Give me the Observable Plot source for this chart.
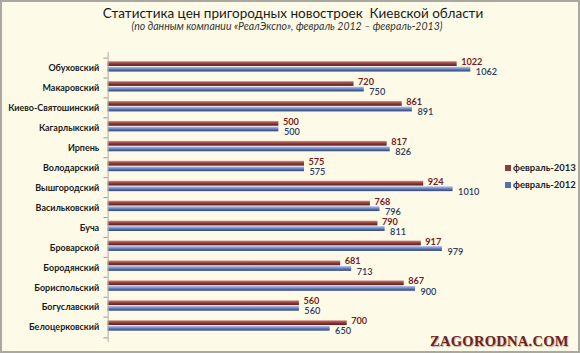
<!DOCTYPE html>
<html><head><meta charset="utf-8">
<script src="https://cdn.jsdelivr.net/npm/d3@7"></script>
<script src="https://cdn.jsdelivr.net/npm/@observablehq/plot@0.6"></script>
<style>
body{margin:0;background:#fff;}
#wrap{position:relative;box-sizing:border-box;width:580px;height:353px;border:2px solid #a9a9a2;background:#fdfbe8;font-family:Lato,"Open Sans",sans-serif;overflow:hidden}
#title{position:absolute;top:3px;left:3px;width:100%;text-align:center;font-size:13.5px;line-height:16px;color:#1a1a1a;white-space:pre}
#sub{position:absolute;top:18px;left:-3px;width:100%;text-align:center;font-size:10.5px;line-height:13px;font-style:italic;color:#333}
#chart{position:absolute;top:40px;left:-2px}
.leg{position:absolute;left:503px;font-size:9.5px;font-weight:bold;color:#222;display:flex;align-items:center}
.leg i{display:inline-block;width:6px;height:6px;margin-right:2px}
#wm{position:absolute;left:428px;top:331px;font-family:"Liberation Serif","DejaVu Serif",serif;font-weight:bold;font-size:14.5px;color:#6b2224;letter-spacing:0.3px;text-shadow:1px 1px 1px #c9a9a0}
</style></head>
<body>
<div id="wrap">
  <div id="title">Статистика цен пригородных новостроек  Киевской области</div>
  <div id="sub">(по данным компании «РеалЭкспо», февраль 2012 – февраль-2013)</div>
  <div id="chart"></div>
  <div class="leg" style="top:160px"><i style="background:#8f3c39"></i>февраль-2013</div>
  <div class="leg" style="top:177px"><i style="background:#5570aa"></i>февраль-2012</div>
  <div id="wm">ZAGORODNA.COM</div>
</div>
<script>
const categories = ["Обуховский","Макаровский","Киево-Святошинский","Кагарлыкский","Ирпень","Володарский","Вышгородский","Васильковский","Буча","Броварской","Бородянский","Бориспольский","Богуславский","Белоцерковский"];
const v2013 = [1022,720,861,500,817,575,924,768,790,917,681,867,560,700];
const v2012 = [1062,750,891,500,826,575,1010,796,811,979,713,900,560,650];

const rows = categories.map((c,i)=>({c, a:v2013[i], b:v2012[i]}));
const bw = 20.75;
const plot = Plot.plot({
  width: 580, height: 311,
  marginLeft: 108, marginRight: 95, marginTop: 10, marginBottom: 10,
  style: {background: "transparent", fontFamily: "Lato, sans-serif"},
  x: {domain: [0, 1100], axis: null},
  y: {domain: categories, padding: 0, label: null},
  marks: [
    Plot.axisY({tickSize: 0, tickPadding: 9, fontSize: 9, fontWeight: "bold", fill: "#1a1a1a"}),
    Plot.barX(rows, {y: "c", x: "a", fill: "url(#gRed)", insetTop: 3.2, insetBottom: bw - 8.8}),
    Plot.barX(rows, {y: "c", x: "b", fill: "url(#gBlue)", insetTop: 8.8, insetBottom: bw - 14.4}),
    Plot.ruleY(rows, {y: "c", x1: -12, x2: 0, dy: -bw/2, stroke: "#999"}),
    Plot.ruleY(rows.slice(-1), {y: "c", x1: -12, x2: 0, dy: bw/2, stroke: "#999"}),
    Plot.ruleX([0], {stroke: "#aaa"}),
    Plot.text(rows, {y: "c", x: "a", text: d => String(d.a), dx: 4, dy: -6.2, textAnchor: "start", fontSize: 9.2, fontWeight: "bold", fill: "#7a1c1c"}),
    Plot.text(rows, {y: "c", x: "b", text: d => String(d.b), dx: 5, dy: 4, textAnchor: "start", fontSize: 9.2, fontWeight: 600, fill: "#2c3c62"})
  ]
});
const ns = "http://www.w3.org/2000/svg";
const defs = document.createElementNS(ns, "defs");
defs.innerHTML = `
<linearGradient id="gRed" x1="0" y1="0" x2="0" y2="1">
 <stop offset="0" stop-color="#d9a09a"/><stop offset="0.3" stop-color="#a85450"/><stop offset="0.7" stop-color="#7a2e2c"/><stop offset="1" stop-color="#5e2120"/>
</linearGradient>
<linearGradient id="gBlue" x1="0" y1="0" x2="0" y2="1">
 <stop offset="0" stop-color="#b8c4ec"/><stop offset="0.35" stop-color="#7f96cc"/><stop offset="0.7" stop-color="#4c64a0"/><stop offset="1" stop-color="#34497a"/>
</linearGradient>`;
plot.insertBefore(defs, plot.firstChild);
document.getElementById("chart").appendChild(plot);
</script>
</body></html>
